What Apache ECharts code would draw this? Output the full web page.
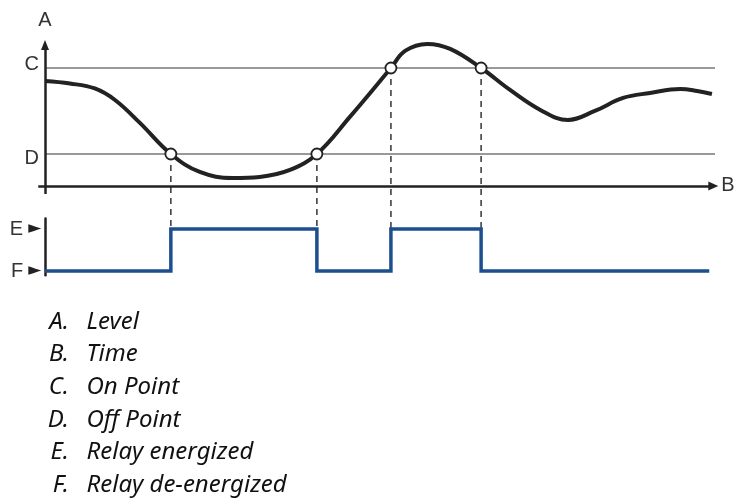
<!DOCTYPE html>
<html>
<head>
<meta charset="utf-8">
<script src="https://cdn.jsdelivr.net/npm/echarts@6/dist/echarts.min.js"></script>
<style>
  html, body { margin: 0; padding: 0; background: #fff; }
  #chart { width: 736px; height: 498px; }
</style>
</head>
<body>
<div id="chart"></div>
<script>
// level curve (time 0..100, level 0..100)
var curveTime  = [0, 3.7, 7.4, 10.4, 14.1, 18.7, 23.0, 27.9, 31.9, 36.4, 40.4, 45.3, 51.4, 53.5, 56.8, 60.2, 64.8, 69.1, 73.6, 77.7, 81.7, 85.9, 89.9, 94.4, 96.9, 99.1];
var curveLevel = [71.9, 70.2, 66.8, 58.9, 43.2, 21.9, 9.6, 5.5, 6.2, 11, 21.9, 47.3, 80.8, 92.5, 97.3, 93.9, 80.8, 65.8, 52.1, 45.2, 51.4, 60.3, 63.7, 66.5, 65.1, 63];

// set points
var onLevel = 80.8;   // C
var offLevel = 21.9;  // D

// crossing points
var crossTime  = [18.7, 40.4, 51.4, 64.8];
var crossLevel = [21.9, 21.9, 80.8, 80.8];

// relay state: 0 = F (de-energized), 1 = E (energized)
var relayTime  = [0, 18.7, 40.4, 51.4, 64.8, 98.7];
var relayState = [0, 1, 0, 1, 0, 0];

// where the relay E level sits, in level units of the top chart
var relayTopInLevel = -29.5;

var legendKeys  = ['A.', 'B.', 'C.', 'D.', 'E.', 'F.'];
var legendTexts = ['Level', 'Time', 'On Point', 'Off Point', 'Relay energized', 'Relay de-energized'];

var ink = '#222';
var relayBlue = '#1d4f8f';
var labelFont = { fontFamily: 'Liberation Sans', fontSize: 20, color: '#333' };

var chart = echarts.init(document.getElementById('chart'));

var curveData = curveTime.map(function (t, i) { return [t, curveLevel[i]]; });
var crossData = crossTime.map(function (t, i) { return [t, crossLevel[i]]; });
var relayData = relayTime.map(function (t, i) { return [t, relayState[i]]; });

var dashSeries = crossTime.map(function (t, i) {
  return {
    type: 'line',
    xAxisIndex: 0, yAxisIndex: 0,
    data: [[t, crossLevel[i]], [t, relayTopInLevel]],
    symbol: 'none',
    silent: true,
    lineStyle: { color: '#333', width: 1.5, type: [6, 5] },
    z: 2
  };
});

var legendGraphics = [];
legendKeys.forEach(function (k, i) {
  var y = 322 + i * 32.6;
  legendGraphics.push({
    type: 'text', x: 69, y: y,
    style: { text: k, align: 'right', verticalAlign: 'middle', font: 'italic 24px "Noto Sans"', fill: '#111' }
  });
  legendGraphics.push({
    type: 'text', x: 86.5, y: y,
    style: { text: legendTexts[i], align: 'left', verticalAlign: 'middle', font: 'italic 24px "Noto Sans"', fill: '#111' }
  });
});

var option = {
  animation: false,
  grid: [
    { left: 38.27, right: 18, top: 40, bottom: 269 },
    { left: 38.27, right: 18, top: 218.5, bottom: 222.8 }
  ],
  xAxis: [
    { gridIndex: 0, type: 'value', min: -1, max: 100, show: false },
    { gridIndex: 1, type: 'value', min: -1, max: 100, show: false }
  ],
  yAxis: [
    { gridIndex: 0, type: 'value', min: relayTopInLevel, max: 100, show: false },
    {
      gridIndex: 1, type: 'value', min: -0.1, max: 1.25,
      axisLine: { show: true, onZero: true, lineStyle: { color: ink, width: 2.5 } },
      axisTick: { show: false },
      splitLine: { show: false },
      axisLabel: {
        customValues: [0, 1],
        margin: -3,
        formatter: function (v) { return (v === 1 ? '{t|E}' : '{t|F}') + '{a|►}'; },
        rich: {
          t: { fontFamily: 'Liberation Sans', fontSize: 20, color: '#333', padding: [0, 5, 0, 0] },
          a: { fontFamily: 'DejaVu Sans', fontSize: 17, color: ink }
        }
      }
    }
  ],
  series: [
    {
      type: 'line',
      xAxisIndex: 0, yAxisIndex: 0,
      data: [],
      silent: true,
      markLine: {
        silent: true,
        animation: false,
        data: [
          [
            { coord: [0, onLevel], symbol: 'none', label: { show: true, position: 'start', formatter: 'C', distance: 6, offset: [0, -4] } },
            { coord: [99.55, onLevel], symbol: 'none' }
          ],
          [
            { coord: [0, offLevel], symbol: 'none', label: { show: true, position: 'start', formatter: 'D', distance: 6, offset: [0, 5] } },
            { coord: [99.55, offLevel], symbol: 'none' }
          ]
        ],
        label: labelFont,
        lineStyle: { color: '#999', width: 1.8, type: 'solid' }
      },
      z: 1
    },
    {
      type: 'line',
      xAxisIndex: 0, yAxisIndex: 0,
      data: [],
      silent: true,
      markLine: {
        silent: true,
        animation: false,
        data: [
          [
            { coord: [-1, 0], symbol: 'none' },
            { coord: [99.3, 0], symbol: 'triangle', symbolSize: [9, 10], label: { show: true, position: 'end', formatter: 'B', distance: 8 } }
          ],
          [
            { coord: [0, -5.5], symbol: 'none' },
            { coord: [0, 96.6], symbol: 'triangle', symbolSize: [8, 10], label: { show: true, position: 'end', formatter: 'A', distance: 14 } }
          ]
        ],
        label: labelFont,
        lineStyle: { color: ink, width: 2.5, type: 'solid' }
      },
      z: 3
    },
    {
      type: 'line',
      xAxisIndex: 0, yAxisIndex: 0,
      data: curveData,
      smooth: 0.4,
      symbol: 'none',
      lineStyle: { color: ink, width: 4 },
      z: 4
    }
  ].concat(dashSeries).concat([
    {
      type: 'scatter',
      xAxisIndex: 0, yAxisIndex: 0,
      data: crossData,
      symbol: 'circle',
      symbolSize: 11,
      itemStyle: { color: '#fff', opacity: 1, borderColor: ink, borderWidth: 1.8 },
      z: 6
    },
    {
      type: 'line',
      xAxisIndex: 1, yAxisIndex: 1,
      data: relayData,
      step: 'end',
      symbol: 'none',
      lineStyle: { color: relayBlue, width: 3.5, join: 'miter' },
      z: 5
    }
  ]),
  graphic: legendGraphics
};

chart.setOption(option);
</script>
</body>
</html>
